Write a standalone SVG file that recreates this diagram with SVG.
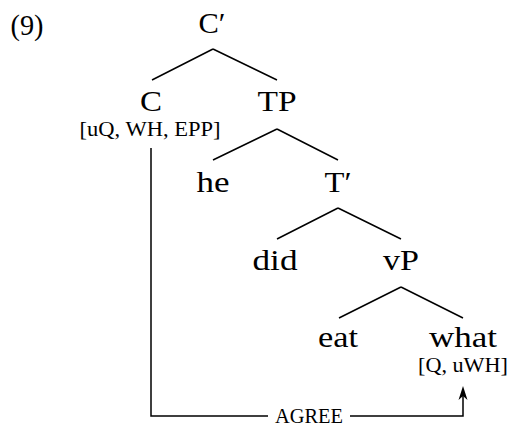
<svg xmlns="http://www.w3.org/2000/svg" width="511" height="426" viewBox="0 0 511 426">
<defs>
<style>
.lab{font-family:"Liberation Serif","Times New Roman",serif;font-size:30px;fill:#000;text-anchor:middle}
.feat{font-family:"Liberation Serif","Times New Roman",serif;font-size:21px;fill:#000;text-anchor:middle}
.sc{font-family:"Liberation Serif","Times New Roman",serif;font-size:20px;fill:#000;text-anchor:middle}
.edge{stroke:#000;stroke-width:1.5;fill:none}
</style>
</defs>
<rect width="511" height="426" fill="#fff"/>
<text class="lab" x="27" y="35" textLength="33" lengthAdjust="spacingAndGlyphs">(9)</text>
<g id="connectors">
<path class="edge" d="M213,49 L152,80 M213,49 L277,80"/>
<path class="edge" d="M277,129 L213,160 M277,129 L338,160"/>
<path class="edge" d="M338,208 L277,239 M338,208 L401,239"/>
<path class="edge" d="M401,287 L339,318 M401,287 L463,318"/>
<path class="edge" d="M151,148 V416 H268"/>
<path class="edge" d="M350,416 H463 V396"/>
<path d="M463,386 L467.5,400 L463,396 L458.5,400 Z" fill="#000"/>
<text class="sc" x="309" y="423" textLength="68" lengthAdjust="spacingAndGlyphs">AGREE</text>
</g>
<g id="node-Cbar"><text class="lab" x="212" y="33" textLength="27" lengthAdjust="spacingAndGlyphs">C′</text></g>
<g id="node-C"><text class="lab" x="151" y="111" textLength="22" lengthAdjust="spacingAndGlyphs">C</text><text class="feat" x="150" y="136" textLength="141" lengthAdjust="spacingAndGlyphs">[uQ, WH, EPP]</text></g>
<g id="node-TP"><text class="lab" x="277" y="111" textLength="39" lengthAdjust="spacingAndGlyphs">TP</text></g>
<g id="node-he"><text class="lab" x="213" y="192" textLength="33" lengthAdjust="spacingAndGlyphs">he</text></g>
<g id="node-Tbar"><text class="lab" x="338" y="192" textLength="27" lengthAdjust="spacingAndGlyphs">T′</text></g>
<g id="node-did"><text class="lab" x="275" y="270" textLength="45" lengthAdjust="spacingAndGlyphs">did</text></g>
<g id="node-vP"><text class="lab" x="401" y="270" textLength="36" lengthAdjust="spacingAndGlyphs">vP</text></g>
<g id="node-eat"><text class="lab" x="338" y="347" textLength="40" lengthAdjust="spacingAndGlyphs">eat</text></g>
<g id="node-what"><text class="lab" x="463" y="347" textLength="68" lengthAdjust="spacingAndGlyphs">what</text><text class="feat" x="463" y="372" textLength="90" lengthAdjust="spacingAndGlyphs">[Q, uWH]</text></g>
</svg>
